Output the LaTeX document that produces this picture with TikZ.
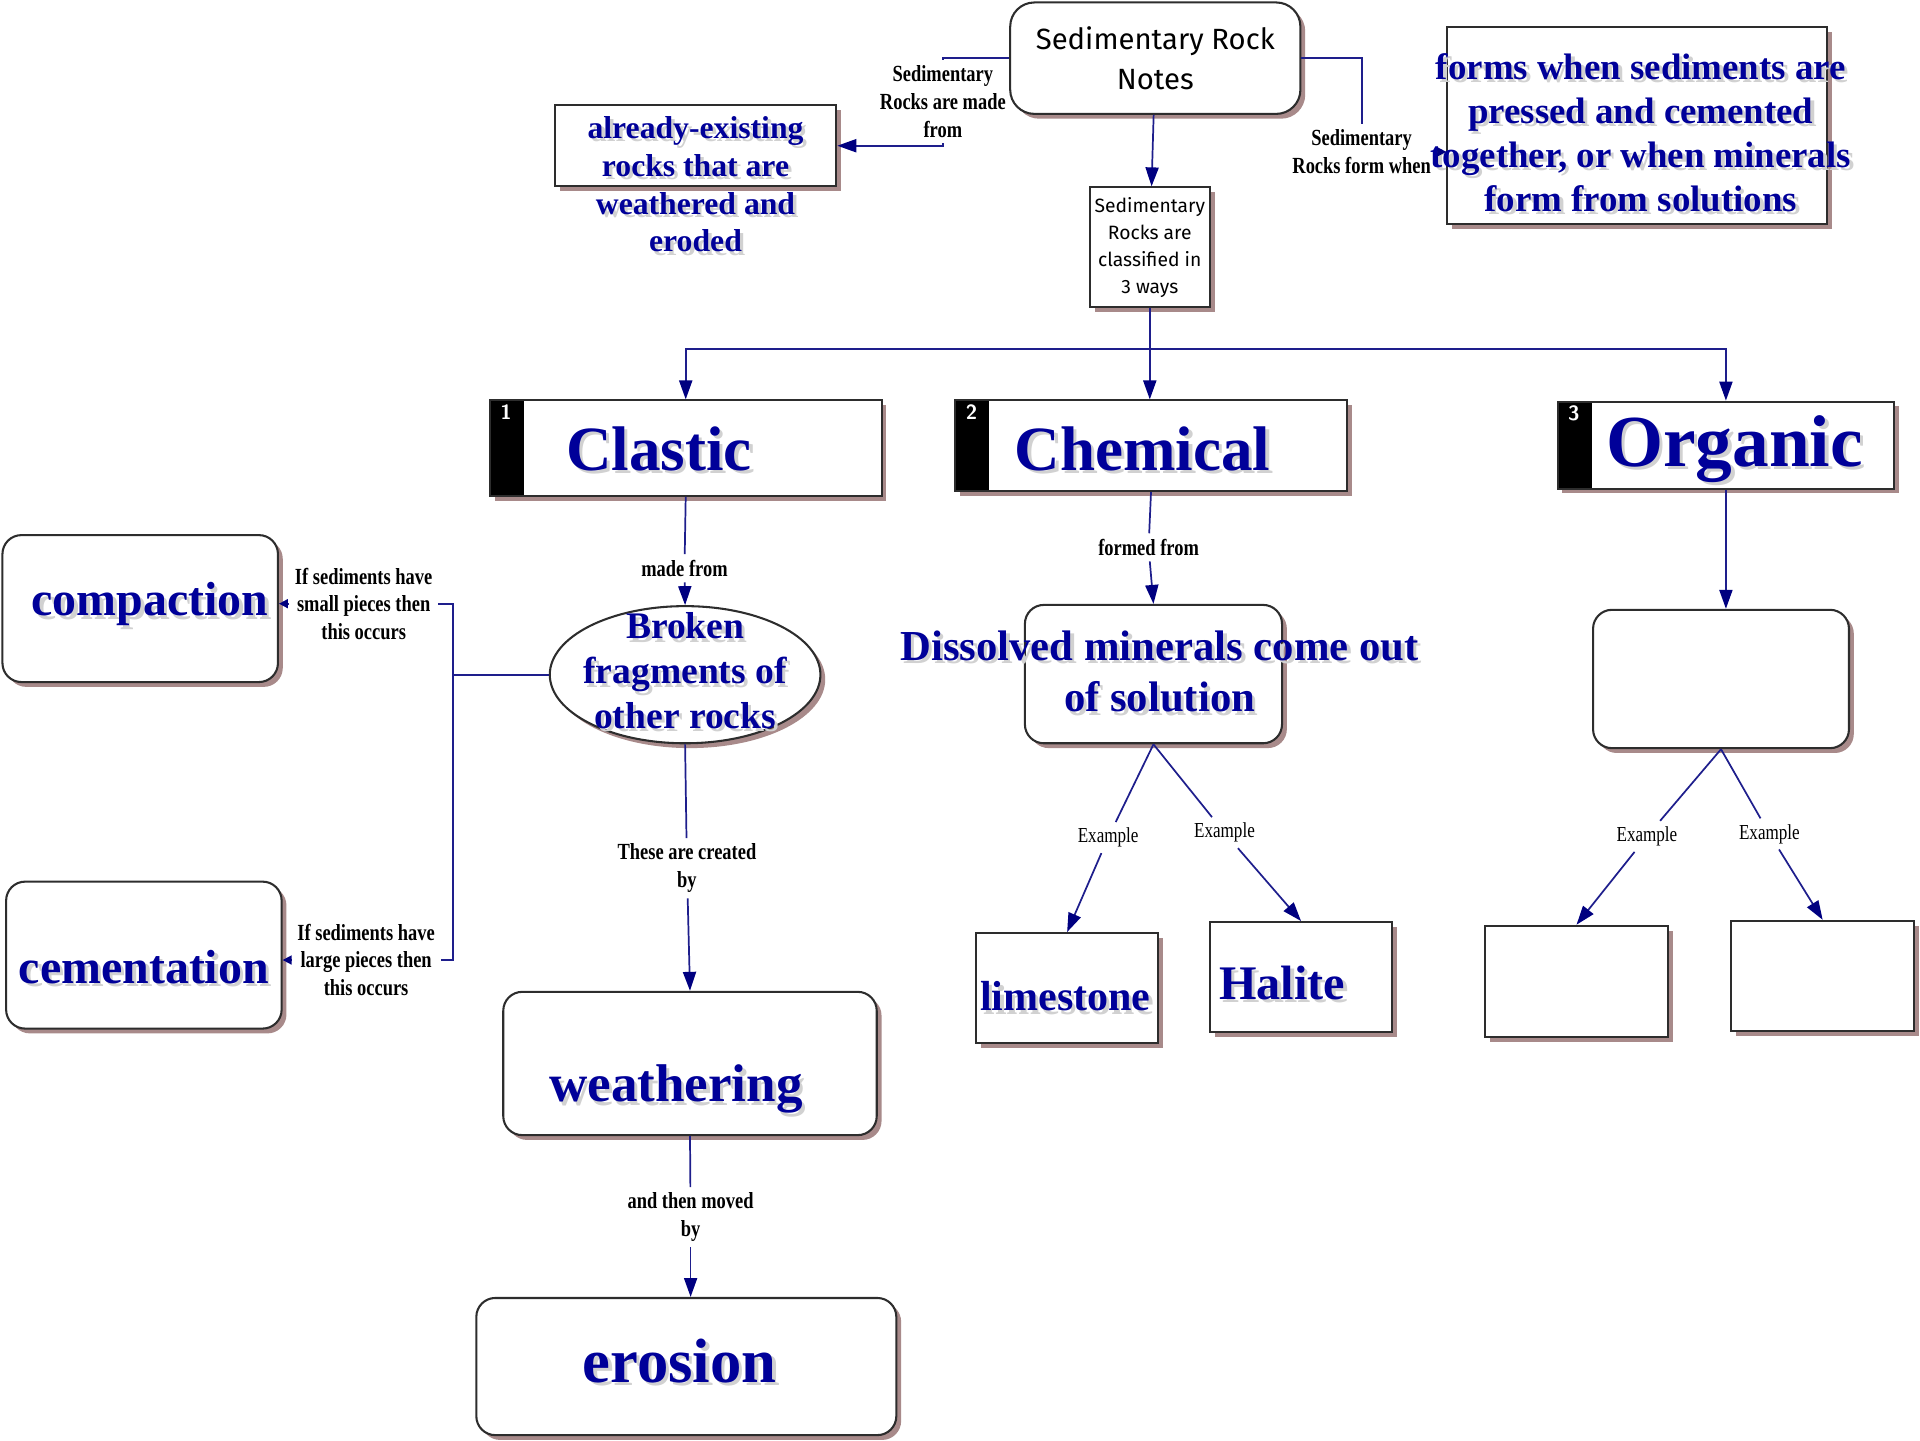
\documentclass[tikz,border=0pt]{standalone}
\usepackage{fontspec}
\setmainfont{Liberation Serif}
\newfontfamily\lblfont[FakeStretch=0.8]{Liberation Serif}
\newfontfamily\notefont{Fira Sans}
\usepackage{xcolor}
\usepackage{tikz}
\usetikzlibrary{arrows.meta,shapes.geometric,shadows}

\definecolor{txtblue}{RGB}{0,0,153}
\definecolor{lineblue}{RGB}{30,30,140}
\definecolor{tipblue}{RGB}{0,0,128}
\definecolor{shadowcol}{RGB}{168,138,138}
\definecolor{edgecol}{RGB}{45,45,45}

\newlength{\pxu}
\setlength{\pxu}{0.0125cm}

% text that may spill over its box: shift (2dx), raise, lines
\newcommand{\shove}[3]{%
  \makebox[0pt]{\hspace*{\dimexpr#1+2pt\relax}\smash{\raisebox{\dimexpr#2-0.25em-1pt-3\pxu\relax}{\color{black!18}\begin{tabular}{@{}c@{}}#3\end{tabular}}}}%
  \makebox[0pt]{\hspace*{#1}\smash{\raisebox{\dimexpr#2-0.25em-3\pxu\relax}{\begin{tabular}{@{}c@{}}#3\end{tabular}}}}}

\begin{document}
\begin{tikzpicture}[x=\pxu, y=-\pxu,
	box/.style={draw=edgecol, line width=0.6pt, fill=white, inner sep=0pt,
		drop shadow={shadow xshift=1.4pt, shadow yshift=-1.4pt, fill=shadowcol, opacity=1}},
	rbox/.style={box, rounded corners=5.5pt},
	catbox/.style={box,
		path picture={\fill[black] (path picture bounding box.north west) rectangle ([xshift=28\pxu]path picture bounding box.south west);},
		label={[anchor=north west, inner sep=0pt, xshift=9\pxu, yshift=-4\pxu, text=white, font=\sffamily\bfseries\fontsize{6}{7}\selectfont]north west:#1}},
	bigtxt/.style 2 args={text=txtblue, font=\bfseries\fontsize{#1}{#2}\selectfont},
	lbl/.style={font=\lblfont\bfseries\fontsize{6.7}{8}\selectfont, align=center, inner sep=1.5pt},
	exlbl/.style={font=\lblfont\fontsize{6.2}{7}\selectfont, inner sep=1.5pt},
	link/.style={draw=lineblue, line width=0.5pt},
	arr/.style={link, -{Triangle[length=5.5pt, width=3.8pt, color=tipblue]}},
	smallarr/.style={link, -{Triangle[length=2.6pt, width=2.6pt, color=tipblue]}}]
	
	\useasboundingbox (0,0) rectangle (1568,1176);
	
	% top
	\node[rbox, rounded corners=7pt, minimum width=237\pxu, minimum height=91\pxu, align=center,
		font=\notefont\fontsize{8.5}{11.7}\selectfont] (notes) at (943.5,47.5) {Sedimentary Rock\\Notes};
	\node[box, minimum width=98\pxu, minimum height=98\pxu, align=center,
		font=\notefont\fontsize{5.6}{7.8}\selectfont] (classify) at (939,202) {Sedimentary\\Rocks are\\classified in\\3 ways};
	\node[box, bigtxt={9.2}{11}, minimum width=230\pxu, minimum height=66\pxu] (exist) at (568,119)
		{\shove{0pt}{-31\pxu}{already-existing\\rocks that are\\weathered and\\eroded}};
	\node[box, bigtxt={10.7}{12.8}, minimum width=310\pxu, minimum height=161\pxu] (forms) at (1337,102.5)
		{\shove{6\pxu}{-6\pxu}{forms when sediments are\\pressed and cemented\\together, or when minerals\\form from solutions}};
	
	% three kinds
	\node[catbox=1, bigtxt={18.3}{22}, minimum width=320\pxu, minimum height=78\pxu] (clastic) at (560,366) {\shove{-44\pxu}{-2\pxu}{Clastic}};
	\node[catbox=2, bigtxt={18.3}{22}, minimum width=320\pxu, minimum height=74\pxu] (chemical) at (940,364) {\shove{-14\pxu}{-4\pxu}{Chemical}};
	\node[catbox=3, bigtxt={21.3}{25}, minimum width=275\pxu, minimum height=71\pxu] (organic) at (1409.5,363.5) {\shove{14\pxu}{0pt}{Organic}};
	
	% clastic side
	\node[box, ellipse, bigtxt={10.9}{13}, minimum width=221\pxu, minimum height=112\pxu] (frag) at (559.5,551)
		{\shove{0pt}{3\pxu}{Broken\\fragments of\\other rocks}};
	\node[rbox, bigtxt={13.9}{16.7}, minimum width=225\pxu, minimum height=120\pxu] (compaction) at (114.5,497) {\shove{16\pxu}{6\pxu}{compaction}};
	\node[rbox, bigtxt={13.9}{16.7}, minimum width=225\pxu, minimum height=120\pxu] (cementation) at (117.5,780) {\shove{0pt}{-11\pxu}{cementation}};
	\node[rbox, bigtxt={15.4}{18.5}, minimum width=305\pxu, minimum height=117\pxu] (weathering) at (563.5,868.5) {\shove{-23\pxu}{-17\pxu}{weathering}};
	\node[rbox, bigtxt={18.2}{21.8}, minimum width=343\pxu, minimum height=112\pxu] (erosion) at (560.5,1116) {\shove{-11\pxu}{3\pxu}{erosion}};
	
	% chemical side
	\node[rbox, bigtxt={12.4}{14.9}, minimum width=210\pxu, minimum height=113\pxu] (dissolved) at (942,550.5)
		{\shove{10\pxu}{2\pxu}{Dissolved minerals come out\\of solution}};
	\node[box, bigtxt={12.2}{14.6}, minimum width=149\pxu, minimum height=90\pxu] (limestone) at (871.5,807) {\shove{-3\pxu}{-7\pxu}{limestone}};
	\node[box, bigtxt={14}{16.8}, minimum width=149\pxu, minimum height=90\pxu] (halite) at (1062.5,798) {\shove{-31\pxu}{-6\pxu}{Halite}};
	
	% organic side (left blank)
	\node[rbox, minimum width=209\pxu, minimum height=113\pxu] (orgsub) at (1405.5,554.5) {};
	\node[box, minimum width=149\pxu, minimum height=91\pxu] (orgleft) at (1287.5,801.5) {};
	\node[box, minimum width=149\pxu, minimum height=90\pxu] (orgright) at (1488.5,797) {};
	
	% link labels
	\node[lbl] (madefrom) at (770,83) {Sedimentary\\Rocks are made\\from};
	\node[lbl] (formwhen) at (1112,124) {Sedimentary\\Rocks form when};
	\node[lbl] (lmade) at (559,464) {made from};
	\node[lbl] (lformed) at (938,447) {formed from};
	\node[lbl] (lcreated) at (561,709) {These are created\\by};
	\node[lbl] (lmoved) at (564,994) {and then moved\\by};
	\node[lbl] (lsmall) at (297,493) {If sediments have\\small pieces then\\this occurs};
	\node[lbl] (llarge) at (299,784) {If sediments have\\large pieces then\\this occurs};
	\node[exlbl] (ex1) at (905,684) {Example};
	\node[exlbl] (ex2) at (1000,680) {Example};
	\node[exlbl] (ex3) at (1345,683) {Example};
	\node[exlbl] (ex4) at (1445,681) {Example};
	
	\coordinate (bus) at (939,285);
	\coordinate (forktop) at (370,493);
	\coordinate (forkbot) at (370,784);
	
	% links
	\draw[arr] (notes) -- (classify);
	\draw[link] (notes.west) -| (madefrom.north);
	\draw[arr] (madefrom.south) |- (exist.east);
	\draw[link] (notes.east) -| (formwhen.north);
	\draw[smallarr] (formwhen.east) -- (formwhen.east -| forms.west);
	
	\draw[link] (classify.south) -- (bus);
	\draw[arr] (bus) -| (clastic.north);
	\draw[arr] (bus) -- (bus |- chemical.north);
	\draw[arr] (bus) -| (organic.north);
	
	\draw[link] (clastic.south) -- (lmade);
	\draw[arr] (lmade) -- (frag.north);
	\draw[link] (frag.west) -- (frag.west -| forktop);
	\draw[link] (lsmall.east) -- (forktop) -- (forkbot) -- (llarge.east);
	\draw[smallarr] (lsmall.west) -- (lsmall.west -| compaction.east);
	\draw[smallarr] (llarge.west) -- (llarge.west -| cementation.east);
	\draw[link] (frag.south) -- (lcreated);
	\draw[arr] (lcreated) -- (weathering.north);
	\draw[link] (weathering.south) -- (lmoved);
	\draw[arr] (lmoved) -- (lmoved |- erosion.north);
	
	\draw[link] (chemical.south) -- (lformed);
	\draw[arr] (lformed) -- (dissolved.north);
	\draw[link] (dissolved.south) -- (ex1);
	\draw[arr] (ex1) -- (limestone.north);
	\draw[link] (dissolved.south) -- (ex2);
	\draw[arr] (ex2) -- (halite.north);
	
	\draw[arr] (organic.south) -- (organic.south |- orgsub.north);
	\draw[link] (orgsub.south) -- (ex3);
	\draw[arr] (ex3) -- (orgleft.north);
	\draw[link] (orgsub.south) -- (ex4);
	\draw[arr] (ex4) -- (orgright.north);
	
\end{tikzpicture}
\end{document}
